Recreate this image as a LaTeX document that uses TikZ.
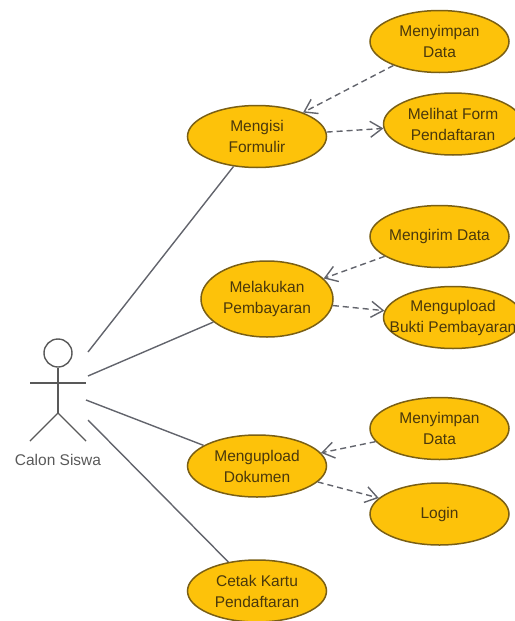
\documentclass[tikz,border=0pt]{standalone}
\usepackage{fontspec}
\setmainfont{Liberation Sans}
\usepackage{xcolor}
\definecolor{ucfill}{HTML}{FDC20A}
\definecolor{ucline}{HTML}{7A5F14}
\definecolor{uctext}{HTML}{4A380C}
\definecolor{linkgray}{HTML}{62646C}
\usetikzlibrary{shapes.geometric,arrows.meta}
\tikzset{
    usecase/.style={draw=ucline, line width=1.5pt, fill=ucfill, ellipse, inner sep=-20pt, minimum width=139pt, minimum height=62pt,
        text=uctext, align=center, font=\fontsize{15.5}{21}\selectfont},
    assoc/.style={draw=linkgray, line width=1.4pt},
    depend/.style={draw=linkgray, line width=1.4pt, dash pattern=on 6pt off 4pt, -{Straight Barb[length=12pt,width=16pt]}},
    stick/.style={draw=black!65, line width=1.4pt}
}
\begin{document}
\begin{tikzpicture}[x=1pt, y=-1pt]
        \useasboundingbox (0,0) rectangle (514,621);
        % use cases
        \node [usecase] (Isi) at (257,136.5) {Mengisi\\Formulir};
        \node [usecase] (Simpan1) at (439.5,41.5) {Menyimpan\\Data};
        \node [usecase] (Lihat) at (453,124) {Melihat Form\\Pendaftaran};
        \node [usecase, minimum width=132pt, minimum height=76pt] (Bayar) at (267,299) {Melakukan\\Pembayaran};
        \node [usecase] (Kirim) at (439.5,236.5) {Mengirim Data};
        \node [usecase] (Bukti) at (453,317.5) {Mengupload\\Bukti Pembayaran};
        \node [usecase] (Dokumen) at (257,466) {Mengupload\\Dokumen};
        \node [usecase] (Simpan2) at (439.5,428.5) {Menyimpan\\Data};
        \node [usecase] (Login) at (439.5,514) {Login};
        \node [usecase] (Cetak) at (257,591) {Cetak Kartu\\Pendaftaran};
        % actor
        \node [stick, circle, inner sep=0pt, minimum size=28pt] (Head) at (58,353) {};
        \coordinate (Hip) at (58,413);
        \coordinate (ArmL) at (30,383);
        \coordinate (ArmR) at (86,383);
        \coordinate (FootL) at (30,441);
        \coordinate (FootR) at (86,441);
        \draw [stick] (Head.south) -- (Hip);
        \draw [stick] (ArmL) -- (ArmR);
        \draw [stick] (FootL) -- (Hip) -- (FootR);
        \node [text=black!65, font=\fontsize{15.5}{21}\selectfont] (Siswa) at (58,460) {Calon Siswa};
        % free ends beside the actor
        \coordinate (End1) at (88,352);
        \coordinate (End2) at (88,376);
        \coordinate (End3) at (86,400);
        \coordinate (End4) at (88,420);
        \draw [assoc] (End1) -- (Isi);
        \draw [assoc] (End2) -- (Bayar);
        \draw [assoc] (End3) -- (Dokumen);
        \draw [assoc] (End4) -- (Cetak);
        % dependencies
        \draw [depend] (Simpan1) -- (Isi);
        \draw [depend] (Isi) -- (Lihat);
        \draw [depend] (Kirim) -- (Bayar);
        \draw [depend] (Bayar) -- (Bukti);
        \draw [depend] (Simpan2) -- (Dokumen);
        \draw [depend] (Dokumen) -- (Login);
    \end{tikzpicture}
\end{document}
